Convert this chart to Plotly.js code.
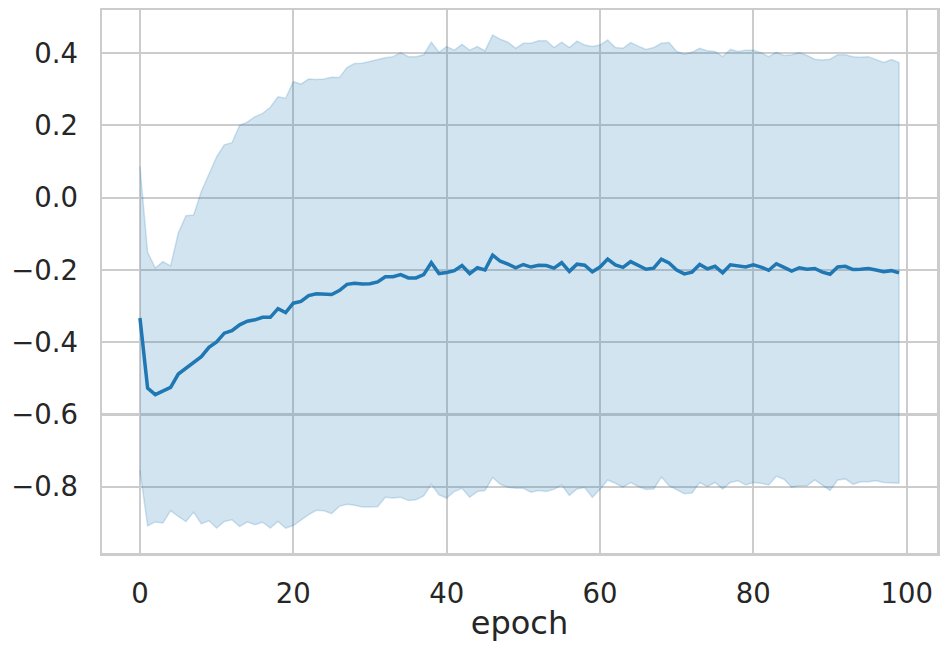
<!DOCTYPE html>
<html>
<head>
<meta charset="utf-8">
<script src="https://cdn.plot.ly/plotly-3.0.1.min.js"></script>
<style>
  html, body { margin: 0; padding: 0; background: #fff; }
  #chart { width: 946px; height: 648px; }
</style>
</head>
<body>
<div id="chart"></div>
<script>
var epochs = [0,1,2,3,4,5,6,7,8,9,10,11,12,13,14,15,16,17,18,19,
  20,21,22,23,24,25,26,27,28,29,30,31,32,33,34,35,36,37,38,39,
  40,41,42,43,44,45,46,47,48,49,50,51,52,53,54,55,56,57,58,59,
  60,61,62,63,64,65,66,67,68,69,70,71,72,73,74,75,76,77,78,79,
  80,81,82,83,84,85,86,87,88,89,90,91,92,93,94,95,96,97,98,99];

var meanReward = [-0.333,-0.527,-0.545,-0.536,-0.525,-0.488,-0.472,-0.456,-0.440,-0.414,
  -0.399,-0.375,-0.368,-0.352,-0.342,-0.338,-0.331,-0.331,-0.307,-0.318,
  -0.292,-0.287,-0.271,-0.266,-0.267,-0.268,-0.257,-0.240,-0.237,-0.239,
  -0.238,-0.233,-0.219,-0.219,-0.213,-0.222,-0.222,-0.213,-0.180,-0.210,
  -0.207,-0.202,-0.188,-0.210,-0.194,-0.200,-0.159,-0.176,-0.184,-0.194,
  -0.185,-0.192,-0.187,-0.188,-0.195,-0.180,-0.204,-0.184,-0.187,-0.205,
  -0.192,-0.170,-0.186,-0.193,-0.177,-0.188,-0.198,-0.195,-0.170,-0.181,
  -0.200,-0.211,-0.206,-0.185,-0.197,-0.190,-0.208,-0.186,-0.188,-0.192,
  -0.186,-0.192,-0.201,-0.183,-0.193,-0.203,-0.194,-0.198,-0.196,-0.206,
  -0.212,-0.192,-0.190,-0.199,-0.198,-0.196,-0.200,-0.205,-0.202,-0.208];

var upperBand = [0.086,-0.151,-0.195,-0.177,-0.189,-0.098,-0.050,-0.048,0.017,0.063,
  0.113,0.146,0.152,0.200,0.209,0.224,0.233,0.250,0.279,0.275,
  0.321,0.314,0.328,0.327,0.328,0.333,0.332,0.360,0.371,0.372,
  0.377,0.383,0.387,0.390,0.401,0.390,0.390,0.395,0.430,0.402,
  0.418,0.408,0.424,0.408,0.418,0.406,0.450,0.438,0.430,0.413,
  0.427,0.427,0.434,0.434,0.415,0.430,0.415,0.433,0.422,0.418,
  0.422,0.436,0.415,0.413,0.429,0.419,0.410,0.415,0.427,0.429,
  0.404,0.397,0.402,0.413,0.406,0.404,0.390,0.410,0.404,0.408,
  0.408,0.401,0.390,0.402,0.393,0.395,0.401,0.393,0.383,0.381,
  0.383,0.395,0.395,0.390,0.388,0.390,0.381,0.374,0.382,0.374];

var lowerBand = [-0.755,-0.908,-0.897,-0.900,-0.866,-0.882,-0.896,-0.870,-0.902,-0.894,
  -0.914,-0.896,-0.891,-0.910,-0.897,-0.905,-0.898,-0.914,-0.896,-0.914,
  -0.907,-0.893,-0.877,-0.865,-0.866,-0.874,-0.854,-0.848,-0.851,-0.856,
  -0.856,-0.855,-0.829,-0.831,-0.829,-0.838,-0.836,-0.825,-0.793,-0.822,
  -0.831,-0.813,-0.804,-0.829,-0.813,-0.810,-0.774,-0.793,-0.801,-0.804,
  -0.804,-0.815,-0.810,-0.813,-0.807,-0.795,-0.824,-0.806,-0.802,-0.829,
  -0.807,-0.781,-0.790,-0.801,-0.788,-0.799,-0.807,-0.806,-0.773,-0.797,
  -0.808,-0.819,-0.817,-0.788,-0.799,-0.788,-0.806,-0.788,-0.783,-0.795,
  -0.788,-0.790,-0.795,-0.771,-0.779,-0.801,-0.797,-0.797,-0.781,-0.795,
  -0.810,-0.781,-0.778,-0.793,-0.786,-0.786,-0.783,-0.788,-0.789,-0.790];

var xTicks = [0, 20, 40, 60, 80, 100];
var yTicks = [-0.8, -0.6, -0.4, -0.2, 0.0, 0.2, 0.4];

// closed polygon so the band edge also runs down both ends, like fill_between
var bandX = epochs.concat(epochs.slice().reverse());
var bandY = upperBand.concat(lowerBand.slice().reverse());

var data = [
  {
    x: bandX, y: bandY,
    type: 'scatter', mode: 'lines',
    fill: 'toself',
    fillcolor: 'rgba(31,119,180,0.2)',
    line: { color: 'rgba(31,119,180,0.2)', width: 1.5 },
    hoverinfo: 'skip'
  },
  {
    x: epochs, y: meanReward,
    type: 'scatter', mode: 'lines',
    line: { color: '#1f77b4', width: 3.5 }
  }
];

var axisFont = { family: 'DejaVu Sans', size: 27.5, color: '#262626' };

var layout = {
  width: 946, height: 648,
  margin: { l: 102, r: 9, t: 10, b: 95 },
  paper_bgcolor: '#fff', plot_bgcolor: '#fff',
  showlegend: false,
  hovermode: false,
  font: axisFont,
  xaxis: {
    range: [-4.95, 103.95],
    tickvals: xTicks,
    ticks: '',
    ticklabelstandoff: 14,
    tickfont: axisFont,
    showgrid: true, gridcolor: '#cccccc', gridwidth: 2.2,
    zeroline: false,
    showline: true, mirror: true, linecolor: '#cccccc', linewidth: 2.5,
    title: { text: 'epoch', font: { family: 'DejaVu Sans', size: 32, color: '#262626' }, standoff: 4 }
  },
  yaxis: {
    range: [-0.983, 0.519],
    tickvals: yTicks,
    tickformat: '.1f',
    ticks: '',
    ticklabelstandoff: 16,
    tickfont: axisFont,
    showgrid: true, gridcolor: '#cccccc', gridwidth: 2.2,
    zeroline: false,
    showline: true, mirror: true, linecolor: '#cccccc', linewidth: 2.5
  }
};

Plotly.newPlot('chart', data, layout, { displayModeBar: false, staticPlot: true });
</script>
</body>
</html>
